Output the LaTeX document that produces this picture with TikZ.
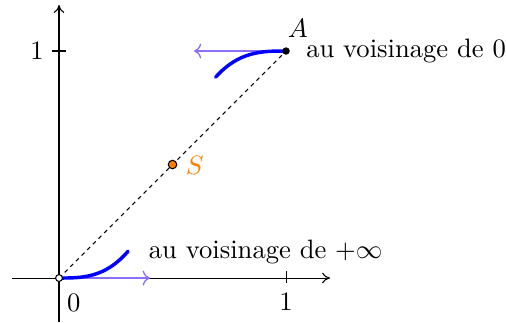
\documentclass[tikz,border=0pt]{standalone}
\usetikzlibrary{arrows.meta}
\definecolor{arrowviolet}{RGB}{140,110,255}
\definecolor{sorange}{RGB}{255,128,0}
\begin{document}
\begin{tikzpicture}[x=3cm,y=3cm,
  axis/.style={->,>={To[length=3pt,width=4pt]},line width=0.4pt},
  curve/.style={blue,line width=1.3pt,line cap=round},
  tangent/.style={->,arrowviolet,line width=0.5pt},
  diag/.style={dash pattern=on 1.5pt off 1.5pt,line width=0.4pt},
  lbl/.style={inner sep=1pt}]
\useasboundingbox (-0.26,-0.194) rectangle (1.969,1.2247);
\coordinate (O) at (0,0);
\coordinate (A) at (1,1);
\coordinate (S) at (0.5,0.5);
\coordinate (xs) at (-0.207,0);
\coordinate (xe) at (1.194,0);
\coordinate (ys) at (0,-0.194);
\coordinate (ye) at (0,1.203);
\coordinate (t0) at (0.4,0);
\coordinate (t1) at (0.595,1);
\draw[axis] (xs) -- (xe);
\draw[axis] (ys) -- (ye);
\draw (1,-2pt) -- (1,2.5pt);
\draw (-2.5pt,1) -- (2.5pt,1);
\node (x1) at (1,-0.106) {1};
\node (y1) at (-0.097,1) {1};
\node (zero) at (0.065,-0.108) {0};
\draw[diag] (O) -- (A);
\draw[tangent] (O) -- (t0);
\draw[tangent] (A) -- (t1);
\draw[curve] (O) .. controls (0.101,0) and (0.203,0) .. (0.304,0.118);
\draw[curve] (A) .. controls (0.897,1) and (0.793,1) .. (0.69,0.885);
\filldraw[fill=white,draw=black,line width=0.4pt] (O) circle (1.3pt);
\fill (A) circle (1.4pt);
\filldraw[fill=sorange,draw=black,line width=0.4pt] (S) circle (1.6pt);
\node[sorange] (Slbl) at (0.598,0.494) {$S$};
\node (Albl) at (1.052,1.1) {$A$};
\node[anchor=west,lbl] (l0) at (1.075,1) {au voisinage de 0};
\node[anchor=west,lbl] (linf) at (0.382,0.115) {au voisinage de $+\infty$};
\end{tikzpicture}
\end{document}
